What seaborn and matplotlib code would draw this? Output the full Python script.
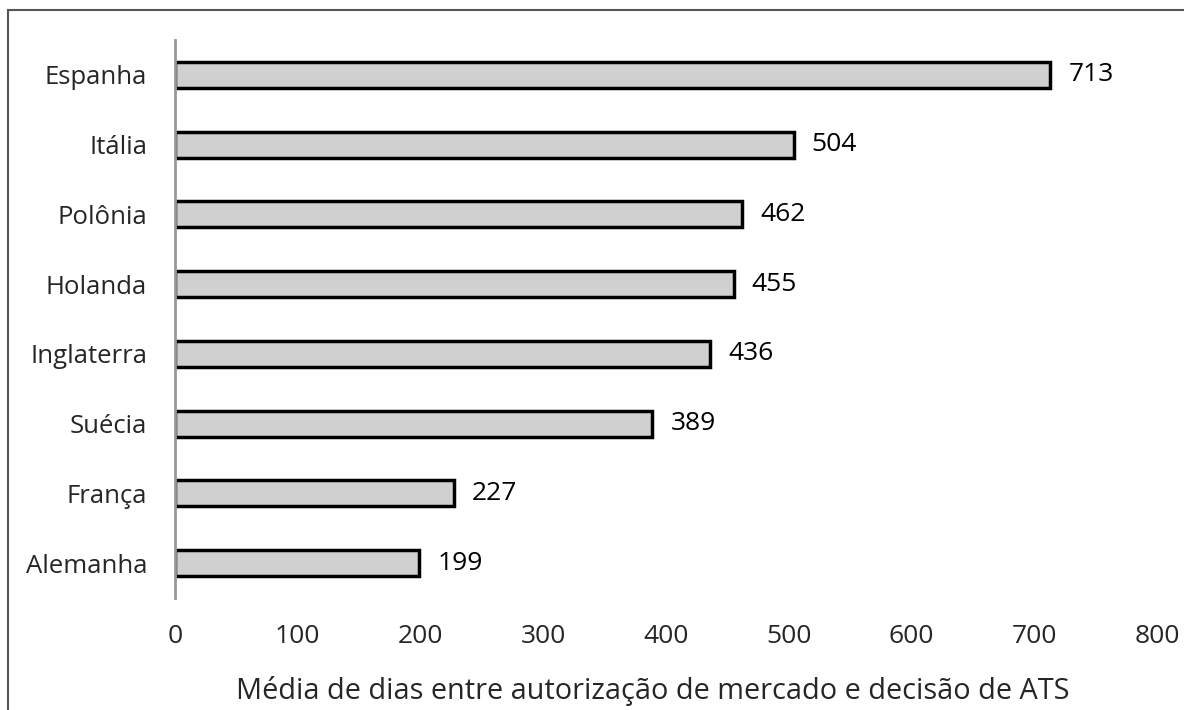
import matplotlib
matplotlib.use("Agg")
import matplotlib.pyplot as plt
import seaborn as sns
import pandas as pd
from matplotlib.patches import Rectangle

countries = ["Espanha", "Itália", "Polônia", "Holanda", "Inglaterra", "Suécia", "França", "Alemanha"]
days = [713, 504, 462, 455, 436, 389, 227, 199]
x_ticks = [0, 100, 200, 300, 400, 500, 600, 700, 800]

sns.set_style("white")
plt.rcParams["font.family"] = ["Open Sans", "DejaVu Sans"]

df = pd.DataFrame({"pais": countries, "dias": days})

fig = plt.figure(figsize=(11.84, 7.10), dpi=100)
ax = fig.add_axes([0.1478, 0.1577, 0.8294, 0.786])

sns.barplot(data=df, x="dias", y="pais", orient="h", color="#d0d0d0",
            edgecolor="black", linewidth=2.5, width=0.37, saturation=1, ax=ax)

for c in ax.containers:
    ax.bar_label(c, padding=13, fontsize=19, color="black")

ax.set_xlim(0, 800)
ax.set_ylim(7.5, -0.5)
ax.set_xticks(x_ticks)
ax.tick_params(axis="x", length=0, pad=19, labelsize=19)
ax.tick_params(axis="y", length=0, pad=20, labelsize=18.5)
ax.set_ylabel("")
ax.set_xlabel("Média de dias entre autorização de mercado e decisão de ATS", fontsize=20.8, labelpad=19)
ax.xaxis.label.set_x(0.487)

for s in ["top", "right", "bottom"]:
    ax.spines[s].set_visible(False)
ax.spines["left"].set_color("#999999")
ax.spines["left"].set_linewidth(2)

# outer frame (only left and top visible in the original crop)
fig.patches.append(Rectangle((8 / 1184, -0.5), 1.5, 1.5 - 10 / 710,
                             transform=fig.transFigure, fill=False,
                             edgecolor="#555555", linewidth=1.5))

fig.savefig("out.png", dpi=100)
